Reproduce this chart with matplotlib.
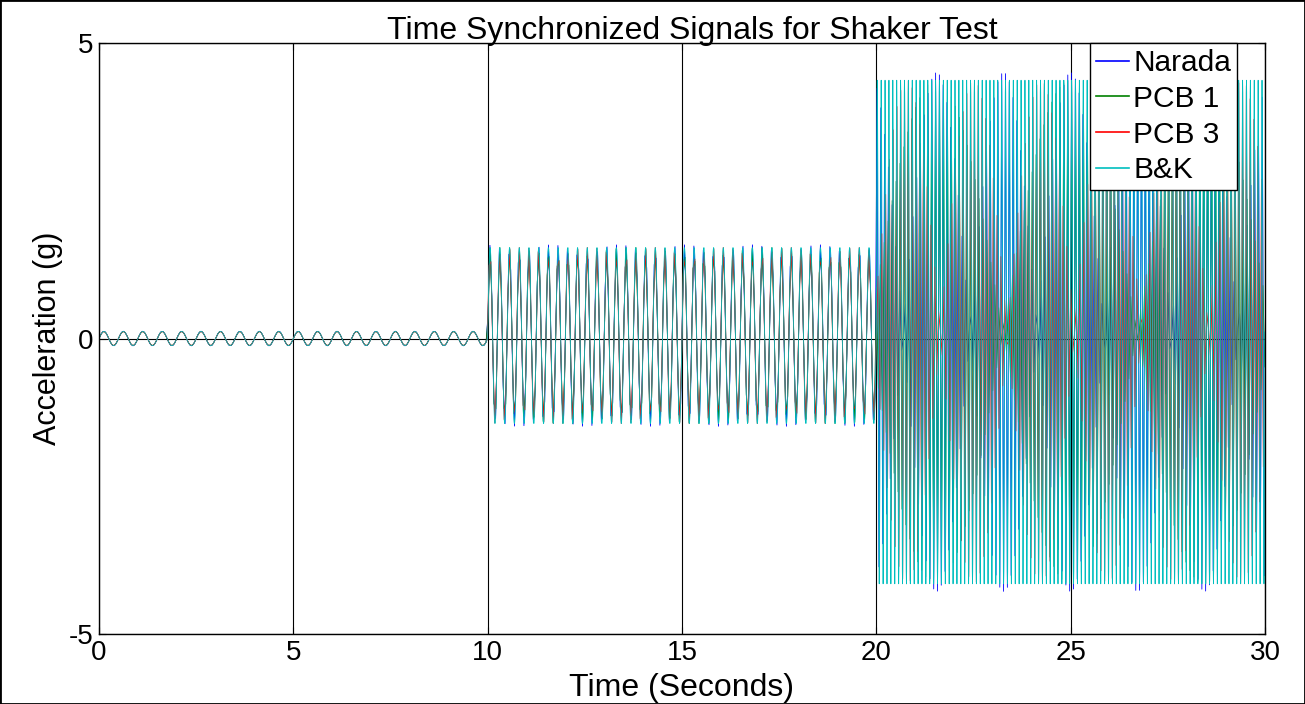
import numpy as np
import matplotlib.pyplot as plt
from matplotlib.patches import Rectangle

plt.rcParams['font.family'] = ['Liberation Sans', 'DejaVu Sans']
plt.rcParams['axes.unicode_minus'] = False

# Shaker test: three excitation levels, each 10 s long
seg_start = [0, 10, 20]
seg_end = [10, 20, 30]
seg_freq = [2.0, 4.0, 10.0]       # Hz, counted from the cycles in the picture
seg_amp = [0.12, 1.49, 4.26]      # g
seg_offset = [0.0, 0.05, 0.11]    # g

# Sensors (drawn in this order, B&K on top); all time synchronized
names = ['Narada', 'PCB 1', 'PCB 3', 'B&K']
colors = ['#0000ff', '#008000', '#ff0000', '#00bfbf']
sample_rate = [20.58, 19.71, 20.58, 200.0]   # Hz
sample_shift = [0.0, 0.013, 0.027, 0.0]      # s, first sample instant
gain = [1.03, 1.0, 1.0, 1.0]

fig = plt.figure(figsize=(13.05, 7.04), dpi=100)
ax = fig.add_axes([0.0759, 0.0994, 0.8934, 0.8395])

for name, c, fs, t0, g in zip(names, colors, sample_rate, sample_shift, gain):
    t = np.arange(t0, 30 + 1e-9, 1.0 / fs)
    y = np.zeros_like(t)
    for s, e, f, a, o in zip(seg_start, seg_end, seg_freq, seg_amp, seg_offset):
        m = (t >= s) & (t < e) if e < 30 else (t >= s)
        y[m] = g * a * np.sin(2 * np.pi * f * (t[m] - s)) + o
    ax.plot(t, y, color=c, lw=0.6, label=name)

ax.set_xlim(0, 30)
ax.set_ylim(-5, 5)
ax.set_xticks([0, 5, 10, 15, 20, 25, 30])
ax.set_yticks([-5, 0, 5])
ax.grid(True, color='black', lw=0.8)
ax.tick_params(direction='in', length=5, labelsize=20, top=True, right=True, pad=4)
for sp in ax.spines.values():
    sp.set_linewidth(1.0)

ax.set_title('Time Synchronized Signals for Shaker Test', fontsize=23, pad=3, x=0.509)
ax.set_xlabel('Time (Seconds)', fontsize=23, labelpad=5)
ax.set_ylabel('Acceleration (g)', fontsize=22, labelpad=4)

leg = ax.legend(loc='upper right', bbox_to_anchor=(0.976, 1.0), fontsize=21.5,
                handlelength=1.1, handletextpad=0.15, borderpad=0.2,
                labelspacing=0.26, fancybox=False, framealpha=1,
                edgecolor='black', borderaxespad=0)
leg.get_frame().set_linewidth(1.0)
for h in leg.get_lines():
    h.set_linewidth(1.2)

fig.patches.append(Rectangle((0, 0), 1, 1, transform=fig.transFigure,
                             fill=False, edgecolor='black', lw=2))

fig.savefig('out.png', dpi=100)
